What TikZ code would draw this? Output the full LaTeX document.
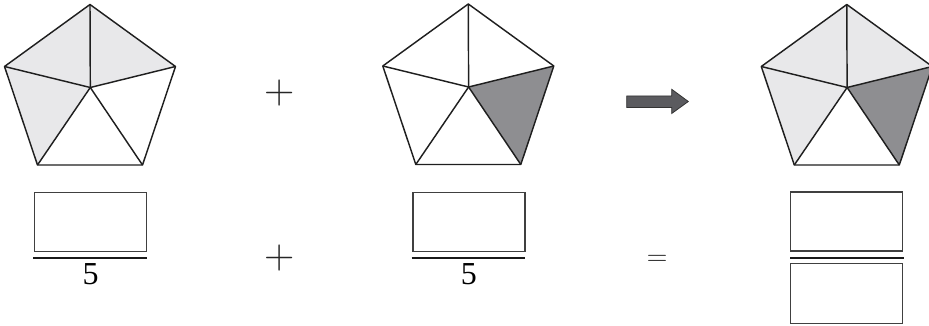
\documentclass[tikz,border=0pt]{standalone}
\usepackage{fontspec}
\newfontfamily\numfont{Liberation Serif}
\begin{document}
\begin{tikzpicture}[x=1pt,y=-1pt,
  pent/.style={draw=black!88,line width=1.45pt,line join=round},
  lightfill/.style={fill=lightshade},
  darkfill/.style={fill=darkshade},
  ansbox/.style={draw=black!75,line width=1.4pt,minimum width=112pt,minimum height=59pt,inner sep=0pt},
  fracline/.style={draw=black!90,line width=2.4pt},
  digit/.style={inner sep=0pt,anchor=base,font=\numfont\fontsize{32}{32}\selectfont},
  opsym/.style={inner sep=0pt,anchor=base,text=black!85}]
\definecolor{lightshade}{HTML}{E8E8EA}
\definecolor{darkshade}{HTML}{8E8E91}
\definecolor{arrowshade}{HTML}{5B5B5F}
\useasboundingbox (0,0) rectangle (929,326);
% pentagon vertex definitions
\foreach \n/\cx/\cy in {p/90/4.5,q/468.3/4,r/846.8/4.5}{
  \coordinate (\n A) at (\cx,\cy);
  \coordinate (\n B) at (\cx+85.5,\cy+62);
  \coordinate (\n C) at (\cx+52.5,\cy+160.5);
  \coordinate (\n D) at (\cx-52.5,\cy+160.5);
  \coordinate (\n E) at (\cx-85.5,\cy+62);
  \coordinate (\n O) at (\cx+0.3,\cy+83);
}
% shading
\fill[lightfill] (pO) -- (pB) -- (pA) -- (pE) -- (pD) -- cycle;
\fill[darkfill] (qO) -- (qB) -- (qC) -- cycle;
\fill[lightfill] (rO) -- (rB) -- (rA) -- (rE) -- (rD) -- cycle;
\fill[darkfill] (rO) -- (rB) -- (rC) -- cycle;
% outlines
\foreach \n in {p,q,r}{
  \draw[pent] (\n A) -- (\n B) -- (\n C) -- (\n D) -- (\n E) -- cycle;
  \foreach \v in {A,B,C,D,E}{ \draw[pent] (\n O) -- (\n\v); }
}
% operators row 1
\node[opsym,font=\fontsize{42}{42}\selectfont] (plusA) at (279.3,104) {+};
% arrow
\draw[fill=arrowshade,draw=black!80,line width=0.8pt,line join=miter]
  (626.7,96) -- (671.7,96) -- (671.7,89.3) -- (688.3,101.5) -- (671.7,113.5)
  -- (671.7,107.5) -- (626.7,107.5) -- cycle;
% answer boxes
\node[ansbox] (box1) at (90.3,222.2) {};
\node[ansbox] (box2) at (468.8,222.2) {};
\node[ansbox] (box3) at (846.7,221.4) {};
\node[ansbox,minimum height=60pt] (box4) at (846.7,293.3) {};
\coordinate (l1a) at (33.3,257.7); \coordinate (l1b) at (146.9,257.7);
\coordinate (l2a) at (411.5,257.7); \coordinate (l2b) at (525.3,257.7);
\coordinate (l3a) at (790.2,257.7); \coordinate (l3b) at (903.5,257.7);
\draw[fracline] (l1a) -- (l1b);
\draw[fracline] (l2a) -- (l2b);
\draw[fracline] (l3a) -- (l3b);
\node[digit] (five1) at (90.5,284.3) {5};
\node[digit] (five2) at (468.8,284.3) {5};
\node[opsym,font=\fontsize{42}{42}\selectfont] (plusB) at (279.3,268) {+};
\node[opsym,font=\fontsize{28.5}{28.5}\selectfont] (eq) at (657.2,265.4) {=};
\end{tikzpicture}
\end{document}
